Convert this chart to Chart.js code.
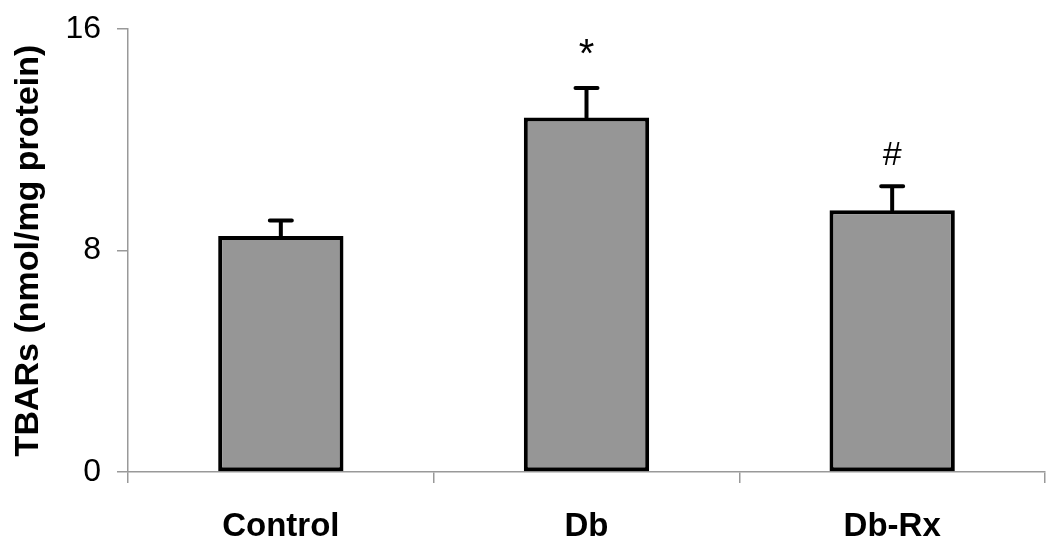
<!DOCTYPE html>
<html>
<head>
<meta charset="utf-8">
<script src="https://cdn.jsdelivr.net/npm/chart.js@4"></script>
<style>
  html, body { margin: 0; padding: 0; background: #fff; }
  #wrap { width: 1050px; height: 556px; }
</style>
</head>
<body>
<div id="wrap"><canvas id="chart" width="1050" height="556"></canvas></div>
<script>
'use strict';

let groups = ['Control', 'Db', 'Db-Rx'];
let tbars = [8.52, 12.8, 9.45];
let errTops = [9.08, 13.87, 10.32];
let marks = ['', '*', '#'];
let markSizes = [32, 40, 34];
let yTicks = [0, 8, 16];

let font = "'Liberation Sans', Arial, sans-serif";

// error bars + significance marks drawn through the scales
let errorBars = {
  id: 'errorBars',
  afterDatasetsDraw(chart) {
    let ctx = chart.ctx;
    let x = chart.scales.x;
    let y = chart.scales.y;
    ctx.save();
    ctx.strokeStyle = '#000';
    ctx.lineWidth = 4;
    ctx.lineCap = 'round';
    groups.forEach((g, i) => {
      let px = x.getPixelForValue(i);
      let base = y.getPixelForValue(tbars[i]);
      let top = y.getPixelForValue(errTops[i]);
      ctx.beginPath();
      ctx.moveTo(px, base);
      ctx.lineTo(px, top);
      ctx.moveTo(px - 11, top);
      ctx.lineTo(px + 11, top);
      ctx.stroke();
      if (marks[i]) {
        ctx.fillStyle = '#000';
        ctx.font = markSizes[i] + 'px ' + font;
        ctx.textAlign = 'center';
        ctx.textBaseline = 'alphabetic';
        ctx.fillText(marks[i], px, top - 21);
      }
    });
    ctx.restore();
  }
};

let data = {
  labels: groups,
  datasets: [
    {
      data: tbars,
      backgroundColor: '#969696',
      borderColor: '#000',
      borderWidth: 4,
      borderSkipped: false,
      barPercentage: 0.82,
      categoryPercentage: 0.5,
    },
  ],
};

let config = {
  type: 'bar',
  data: data,
  options: {
    responsive: false,
    animation: false,
    layout: { padding: { top: 29, right: 5, left: 0, bottom: 0 } },
    plugins: { legend: { display: false }, tooltip: { enabled: false } },
    scales: {
      y: {
        min: 0,
        max: 16,
        afterBuildTicks(scale) {
          scale.ticks = yTicks.map(v => ({ value: v }));
        },
        afterFit(scale) {
          scale.width = 128;
          scale.paddingTop = 0;
          scale.paddingBottom = 0;
        },
        border: { color: '#999', width: 1.5 },
        grid: { drawOnChartArea: false, drawTicks: true, tickLength: 11, color: '#999', lineWidth: 1.5 },
        ticks: { color: '#000', padding: 16, font: { family: font, size: 32 } },
        title: {
          display: true,
          text: 'TBARs (nmol/mg protein)',
          color: '#000',
          font: { family: font, size: 34, weight: 'bold' },
          padding: { top: 8, bottom: 0 },
        },
      },
      x: {
        afterFit(scale) { scale.height = 84; },
        border: { color: '#999', width: 1.5 },
        grid: { drawOnChartArea: false, drawTicks: true, tickLength: 11, color: '#999', lineWidth: 1.5, offset: true },
        ticks: { color: '#000', padding: 24, font: { family: font, size: 33, weight: 'bold' } },
      },
    },
  },
  plugins: [errorBars],
};

new Chart(document.getElementById('chart'), config);
</script>
</body>
</html>
